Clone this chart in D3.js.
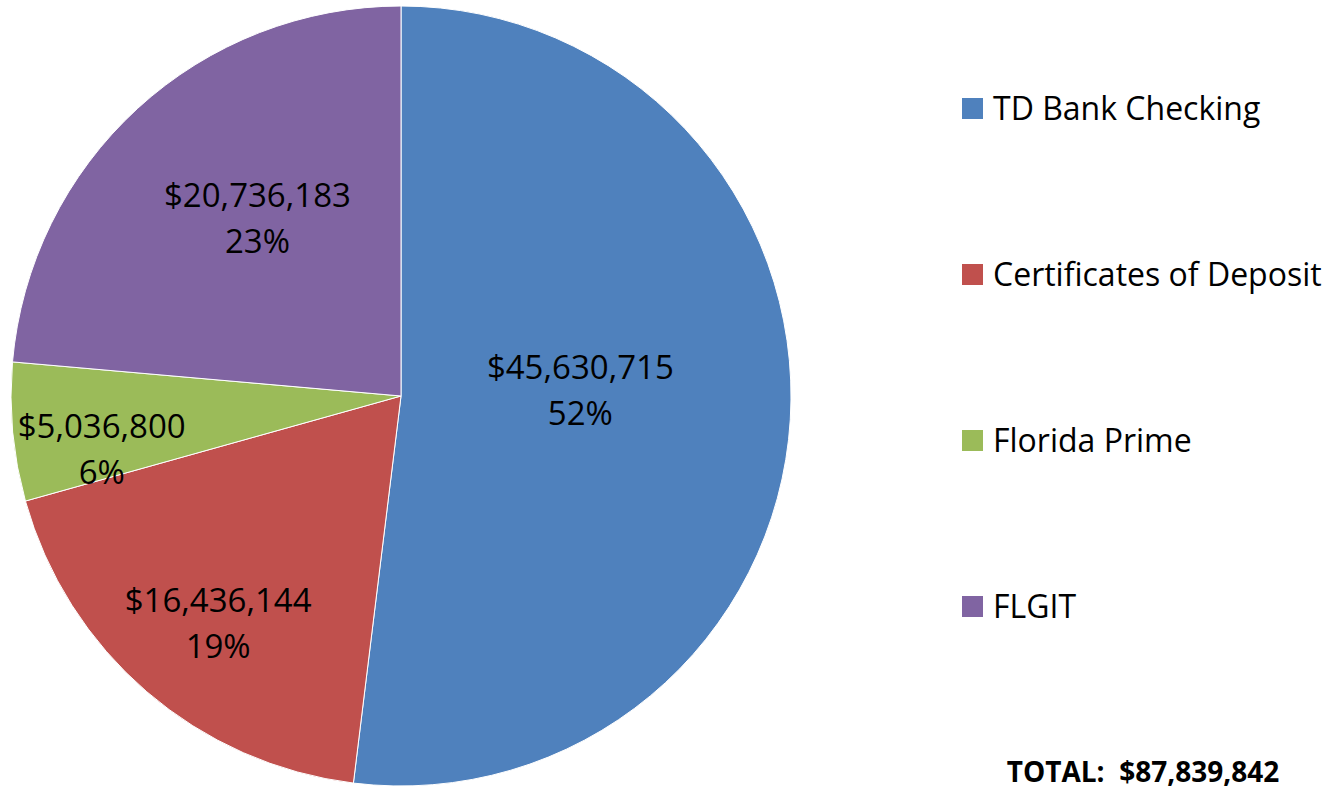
<!DOCTYPE html>
<html>
<head>
<meta charset="utf-8">
<script src="https://cdn.jsdelivr.net/npm/d3@7"></script>
<style>
  body { margin: 0; background: #fff; }
  svg text { font-family: "Open Sans", "Liberation Sans", sans-serif; fill: #000; }
</style>
</head>
<body>
<svg id="chart" width="1336" height="789"></svg>
<script>
var categories = ["TD Bank Checking", "Certificates of Deposit", "Florida Prime", "FLGIT"];
var values = [45630715, 16436144, 5036800, 20736183];
var valueLabels = ["$45,630,715", "$16,436,144", "$5,036,800", "$20,736,183"];
var pctLabels = ["52%", "19%", "6%", "23%"];
var totalLabel = "TOTAL:  $87,839,842";

var colors = ["#4F81BD", "#C0504D", "#9BBB59", "#8064A2"];

// label placement tweaks (fraction of radius, degrees)
var labelR = [0.46, 0.75, 0.78, 0.585];
var labelShift = [-5, -2, -5, 3.5];

var svg = d3.select("#chart");
var cx = 401, cy = 396, r = 390;

var data = categories.map(function (c, i) {
    return {name: c, value: values[i], vl: valueLabels[i], pl: pctLabels[i], i: i};
});

var pie = d3.pie()
    .sort(null)
    .value(function (d) { return d.value; });

var arc = d3.arc().innerRadius(0).outerRadius(r);

var g = svg.append("g").attr("transform", "translate(" + cx + "," + cy + ")");

var arcs = pie(data);

g.selectAll("path.slice")
    .data(arcs)
    .enter().append("path")
    .attr("class", "slice")
    .attr("d", arc)
    .attr("fill", function (d) { return colors[d.data.i]; })
    .attr("stroke", "#fff")
    .attr("stroke-width", 1);

var labels = g.selectAll("g.lbl")
    .data(arcs)
    .enter().append("g")
    .attr("class", "lbl")
    .attr("transform", function (d) {
        var a = (d.startAngle + d.endAngle) / 2 + labelShift[d.data.i] * Math.PI / 180;
        var rr = labelR[d.data.i] * r;
        return "translate(" + (rr * Math.sin(a)) + "," + (-rr * Math.cos(a)) + ")";
    });

labels.append("text")
    .attr("text-anchor", "middle")
    .attr("y", -12)
    .style("font-size", "33px")
    .text(function (d) { return d.data.vl; });

labels.append("text")
    .attr("text-anchor", "middle")
    .attr("y", 34)
    .style("font-size", "33px")
    .text(function (d) { return d.data.pl; });

// legend
var legend = svg.append("g").attr("transform", "translate(962,98)");
var ly = d3.scalePoint().domain(categories).range([0, 498]);

var items = legend.selectAll("g.item")
    .data(categories)
    .enter().append("g")
    .attr("class", "item")
    .attr("transform", function (d) { return "translate(0," + ly(d) + ")"; });

items.append("rect")
    .attr("width", 21)
    .attr("height", 21)
    .attr("fill", function (d, i) { return colors[i]; });

items.append("text")
    .attr("x", 31)
    .attr("y", 22)
    .style("font-size", "32px")
    .text(function (d) { return d; });

svg.append("text")
    .attr("x", 1143)
    .attr("y", 782)
    .attr("text-anchor", "middle")
    .style("font-size", "28px")
    .style("font-weight", "bold")
    .style("white-space", "pre")
    .text(totalLabel);
</script>
</body>
</html>
